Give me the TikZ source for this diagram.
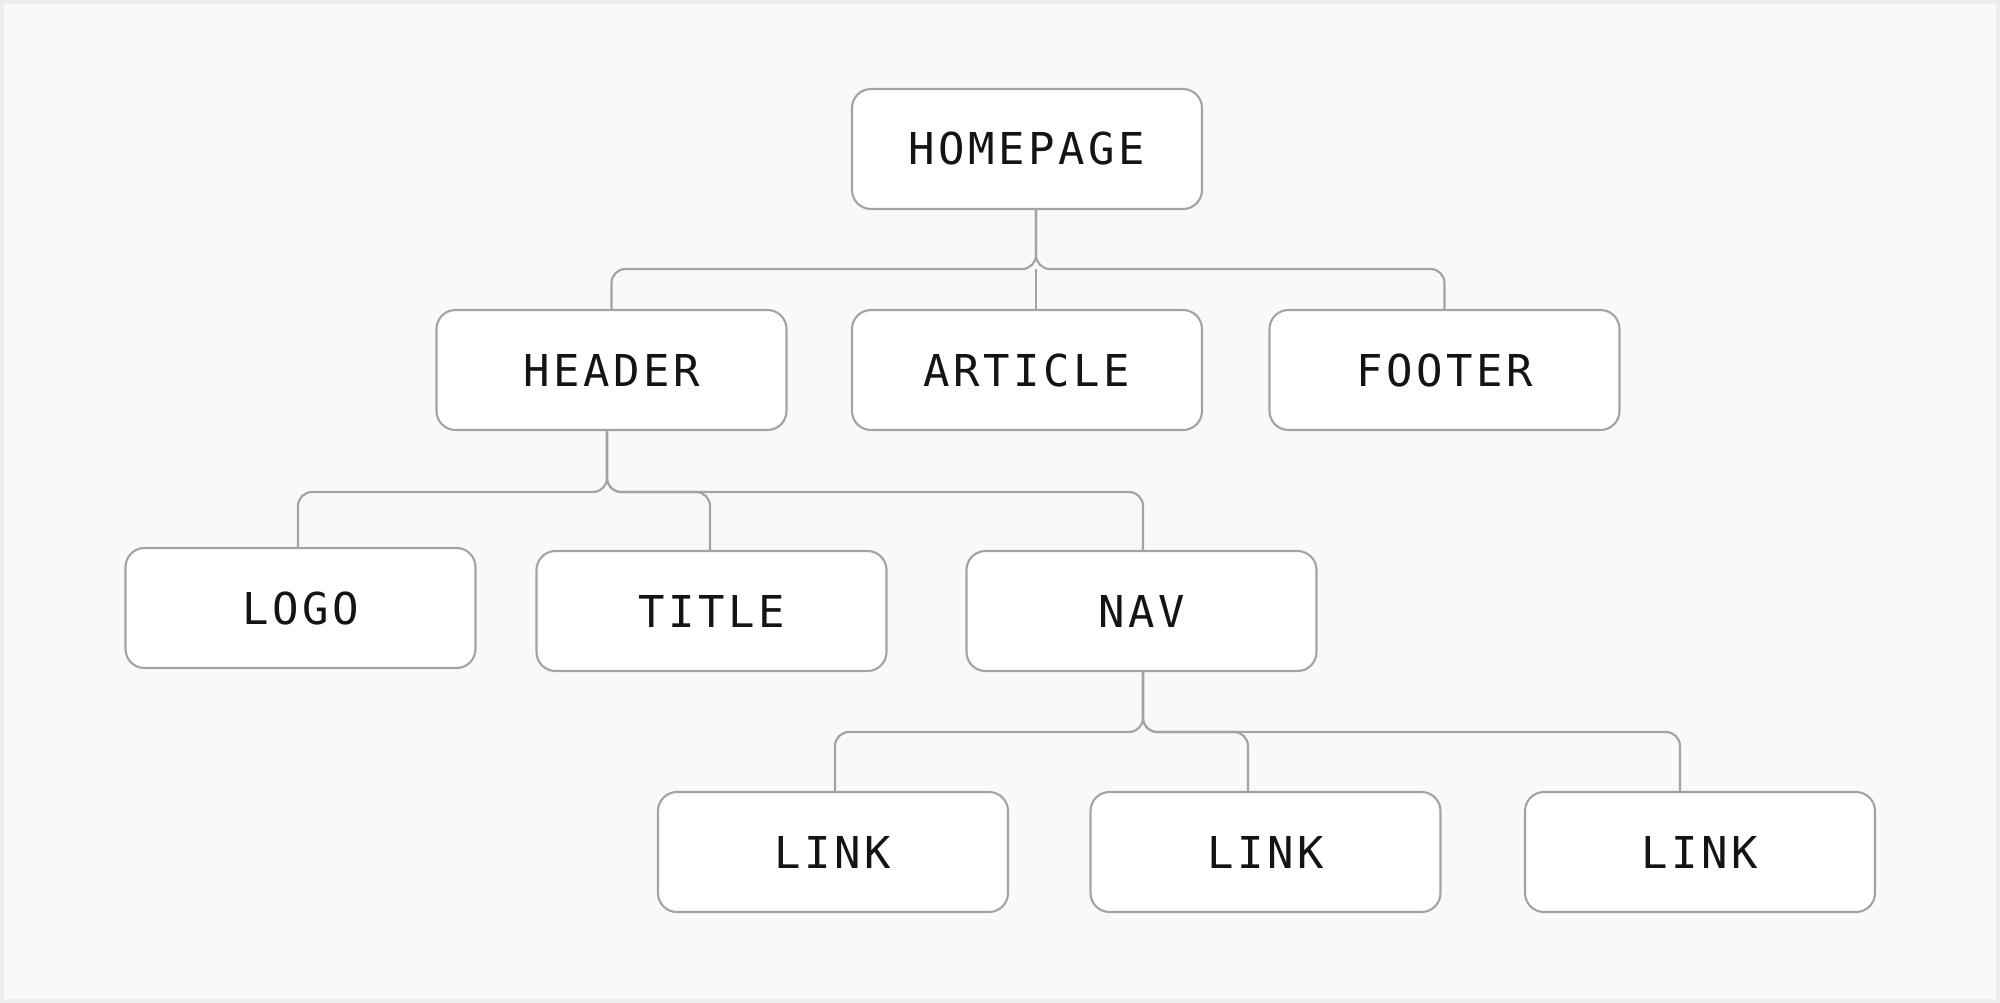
\documentclass[tikz,border=0pt]{standalone}
\usepackage{fontspec}
\newfontfamily\boxfont[LetterSpace=8]{DejaVu Sans Mono}
\definecolor{bgcol}{HTML}{F9F9F9}
\definecolor{edgecol}{HTML}{A3A3A3}
\definecolor{textcol}{HTML}{141414}
\begin{document}
\begin{tikzpicture}[x=0.1mm, y=-0.1mm,
	box/.style={draw=edgecol, line width=0.6pt, fill=white, rounded corners=1.9mm,
		minimum width=35mm, minimum height=12mm, inner sep=0pt,
		font=\boxfont\fontsize{12.5}{14}\selectfont, text=textcol},
	link/.style={draw=edgecol, line width=0.6pt, rounded corners=1.4mm}]
	% background
	\fill[bgcol] (0, 0) rectangle (2000, 1003);
	\draw[black!7, line width=1pt] (2, 2) rectangle (1998, 1001);

	% nodes
	\node[box] (home) at (1027, 149) {HOMEPAGE};
	\node[box] (header) at (611.5, 370) {HEADER};
	\node[box] (article) at (1027, 370) {ARTICLE};
	\node[box] (footer) at (1444.5, 370) {FOOTER};
	\node[box] (logo) at (300.5, 608) {LOGO};
	\node[box] (title) at (711.5, 611) {TITLE};
	\node[box] (nav) at (1141.5, 611) {NAV};
	\node[box] (linka) at (833, 852) {LINK};
	\node[box] (linkb) at (1265.5, 852) {LINK};
	\node[box] (linkc) at (1700, 852) {LINK};

	% junctions
	\coordinate (homej) at (1036, 269);
	\coordinate (headerj) at (607, 492);
	\coordinate (navj) at (1143, 732);

	% connectors
	\draw[link] (homej |- home.south) -- (homej) -| (header.north);
	\draw[link] (homej |- home.south) -- (homej) -| (footer.north);
	\draw[link] (homej) -- (homej |- article.north);

	\draw[link] (headerj |- header.south) -- (headerj) -| ([xshift=-0.25mm]logo.north);
	\draw[link] (headerj |- header.south) -- (headerj) -| ([xshift=-0.15mm]title.north);
	\draw[link] (headerj |- header.south) -- (headerj) -| (navj |- nav.north);

	\draw[link] (navj |- nav.south) -- (navj) -| ([xshift=0.2mm]linka.north);
	\draw[link] (navj |- nav.south) -- (navj) -| ([xshift=-1.75mm]linkb.north);
	\draw[link] (navj |- nav.south) -- (navj) -| ([xshift=-2mm]linkc.north);
\end{tikzpicture}
\end{document}
